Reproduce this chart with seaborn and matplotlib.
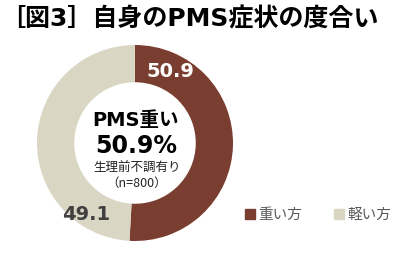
import matplotlib
matplotlib.use("Agg")
import matplotlib.pyplot as plt
import seaborn as sns

sns.set_theme(style="white")
plt.rcParams['font.family'] = ['DejaVu Sans', 'Noto Sans CJK JP']

# data
categories = ["重い方", "軽い方"]
values = [50.9, 49.1]
value_labels = ["50.9", "49.1"]
colors = ["#7A3E31", "#D9D6C3"]
title = "［図3］自身のPMS症状の度合い"
center_main = "PMS重い"
center_pct = "50.9%"
center_sub1 = "生理前不調有り"
center_sub2 = "（n=800）"

W, H = 400, 254
fig = plt.figure(figsize=(W / 100, H / 100), dpi=100)
fig.patch.set_facecolor("white")

cx, cy, r = 135, 143, 98
ax = fig.add_axes([(cx - r) / W, (H - cy - r) / H, 2 * r / W, 2 * r / H])
wedges, _ = ax.pie(values, colors=colors, startangle=90, counterclock=False,
                   radius=1.0, wedgeprops=dict(width=0.38, edgecolor="white", linewidth=0))
ax.set_xlim(-1, 1)
ax.set_ylim(-1, 1)
ax.set_aspect("equal")
ax.axis("off")

# value labels
ax.text(0.36, 0.73, value_labels[0], ha="center", va="center", color="white",
        fontsize=14, fontweight="bold")
ax.text(-0.50, -0.73, value_labels[1], ha="center", va="center", color="#404040",
        fontsize=14, fontweight="bold")

# center text
def px(x, y):
    return x / W, 1 - y / H

fig.text(*px(136, 121), center_main, ha="center", va="center", fontsize=14,
         fontweight="bold", color="black")
fig.text(*px(136, 146), center_pct, ha="center", va="center", fontsize=17,
         fontweight="bold", color="black")
fig.text(*px(137, 168), center_sub1, ha="center", va="center", fontsize=9,
         color="#222222", family=['Noto Sans CJK JP'])
fig.text(*px(137, 183), center_sub2, ha="center", va="center", fontsize=9,
         color="#222222", family=['Noto Sans CJK JP', 'DejaVu Sans'])

# title
fig.text(*px(0, 19), title, ha="left", va="center", fontsize=18, fontweight="bold",
         color="black", family=['DejaVu Sans', 'Noto Sans CJK JP'])

# legend
handles = [plt.Rectangle((0, 0), 1, 1, color=c) for c in colors]
leg = fig.legend(handles, categories, loc="center left", bbox_to_anchor=(232 / W, 1 - 215 / H),
                 ncol=2, frameon=False, handlelength=0.7, handleheight=0.7,
                 handletextpad=0.2, columnspacing=2.2,
                 prop={'family': 'Noto Sans CJK JP', 'size': 10.5})
for t in leg.get_texts():
    t.set_color("#595959")

fig.savefig("out.png", dpi=100, facecolor="white")
